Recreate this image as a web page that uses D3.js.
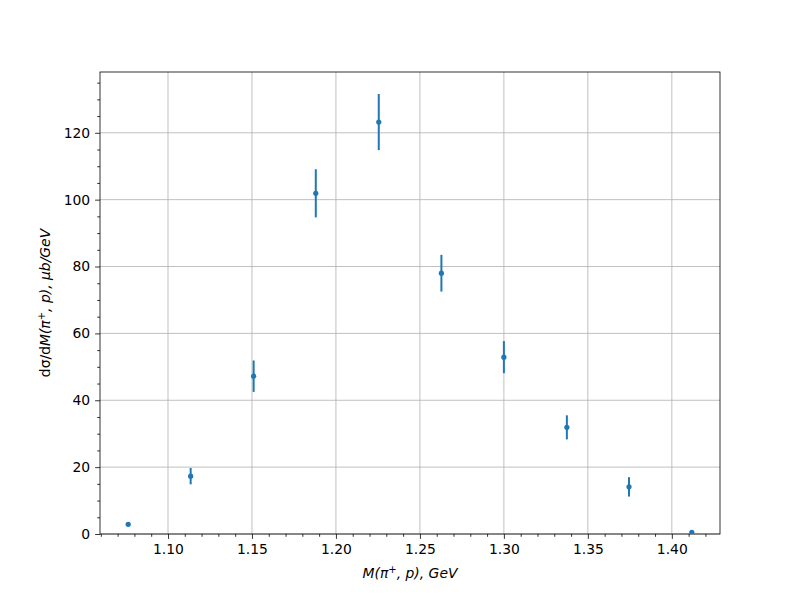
<!DOCTYPE html>
<html><head><meta charset="utf-8">
<script src="https://cdn.jsdelivr.net/npm/d3@7"></script>
<style>body{margin:0;background:#fff}svg{display:block}text{font-family:"DejaVu Sans",sans-serif}</style>
</head><body><div id="chart"></div>
<script>
const massValues = [1.0763, 1.1135, 1.151, 1.188, 1.2255, 1.2628, 1.300, 1.3375, 1.3745, 1.4119];
const crossSection = [2.9, 17.3, 47.2, 101.9, 123.2, 78.0, 52.9, 31.9, 14.1, 0.5];
const errors = [0.3, 2.45, 4.7, 7.2, 8.4, 5.5, 4.8, 3.6, 2.9, 0.2];
const xTicks = [1.10, 1.15, 1.20, 1.25, 1.30, 1.35, 1.40];
const yTicks = [0, 20, 40, 60, 80, 100, 120];

const W = 800, H = 600, L = 100, R = 720, T = 72, B = 534;
const svg = d3.select("#chart").append("svg").attr("width", W).attr("height", H);

const xmin = d3.min(massValues), xmax = d3.max(massValues);
const xm = (xmax - xmin) * 0.05;
const x = d3.scaleLinear().domain([xmin - xm, xmax + xm]).range([L, R]);
const ytop = d3.max(crossSection.map((v, i) => v + errors[i]));
const y = d3.scaleLinear().domain([0, ytop * 1.05]).range([B, T]);

// grid
const g = svg.append("g");
g.selectAll(".gx").data(xTicks).enter().append("line")
  .attr("x1", d => x(d)).attr("x2", d => x(d)).attr("y1", T).attr("y2", B)
  .attr("stroke", "#b0b0b0").attr("stroke-width", 0.8);
g.selectAll(".gy").data(yTicks).enter().append("line")
  .attr("x1", L).attr("x2", R).attr("y1", d => y(d)).attr("y2", d => y(d))
  .attr("stroke", "#b0b0b0").attr("stroke-width", 0.8);

// axes
const xAxis = d3.axisBottom(x).tickValues(xTicks).tickFormat(d3.format(".2f")).tickSizeInner(4.9).tickSizeOuter(0).tickPadding(4.9);
const xMinor = d3.axisBottom(x).tickValues(d3.range(1.06, 1.43, 0.01).filter(v => !xTicks.some(t => Math.abs(t - v) < 1e-6))).tickFormat("").tickSizeInner(2.8).tickSizeOuter(0);
const yAxis = d3.axisLeft(y).tickValues(yTicks).tickSizeInner(4.9).tickSizeOuter(0).tickPadding(4.9);
const yMinor = d3.axisLeft(y).tickValues(d3.range(5, 138, 5).filter(v => v % 20 !== 0)).tickFormat("").tickSizeInner(2.8).tickSizeOuter(0);

function style(sel) {
  sel.select(".domain").remove();
  sel.selectAll("line").attr("stroke", "#000").attr("stroke-width", 0.8);
  sel.selectAll("text").attr("fill", "#000").style("font-size", "13.9px").style("font-family", "DejaVu Sans");
}
svg.append("g").attr("transform", `translate(0,${B})`).call(xAxis).call(style);
svg.append("g").attr("transform", `translate(0,${B})`).call(xMinor).call(style);
svg.append("g").attr("transform", `translate(${L},0)`).call(yAxis).call(style);
svg.append("g").attr("transform", `translate(${L},0)`).call(yMinor).call(style);

// frame
svg.append("rect").attr("x", L).attr("y", T).attr("width", R - L).attr("height", B - T)
  .attr("fill", "none").attr("stroke", "#000").attr("stroke-width", 0.8);

// data
const data = massValues.map((m, i) => ({m, v: crossSection[i], e: errors[i]}));
const clip = svg.append("clipPath").attr("id", "clip").append("rect").attr("x", L).attr("y", T).attr("width", R - L).attr("height", B - T);
const dg = svg.append("g").attr("clip-path", "url(#clip)");
dg.selectAll(".err").data(data).enter().append("line")
  .attr("x1", d => x(d.m)).attr("x2", d => x(d.m))
  .attr("y1", d => y(d.v - d.e)).attr("y2", d => y(d.v + d.e))
  .attr("stroke", "#1f77b4").attr("stroke-width", 2);
dg.selectAll(".pt").data(data).enter().append("circle")
  .attr("cx", d => x(d.m)).attr("cy", d => y(d.v)).attr("r", 2.6)
  .attr("fill", "#1f77b4");

// labels
const xl = svg.append("text").attr("x", (L + R) / 2).attr("y", 578).attr("text-anchor", "middle")
  .style("font-size", "13.9px").style("font-style", "italic");
xl.append("tspan").text("M(π");
xl.append("tspan").attr("dy", -5).style("font-size", "10px").style("font-style", "normal").text("+");
xl.append("tspan").attr("dy", 5).text(", p), GeV");

const yl = svg.append("text").attr("transform", `translate(50,${(T + B) / 2}) rotate(-90)`).attr("text-anchor", "middle")
  .style("font-size", "13.9px");
yl.append("tspan").text("dσ/d");
yl.append("tspan").style("font-style", "italic").text("M(π");
yl.append("tspan").attr("dy", -5).style("font-size", "10px").text("+");
yl.append("tspan").attr("dy", 5).style("font-style", "italic").text(", p), μb/GeV");
</script></body></html>
